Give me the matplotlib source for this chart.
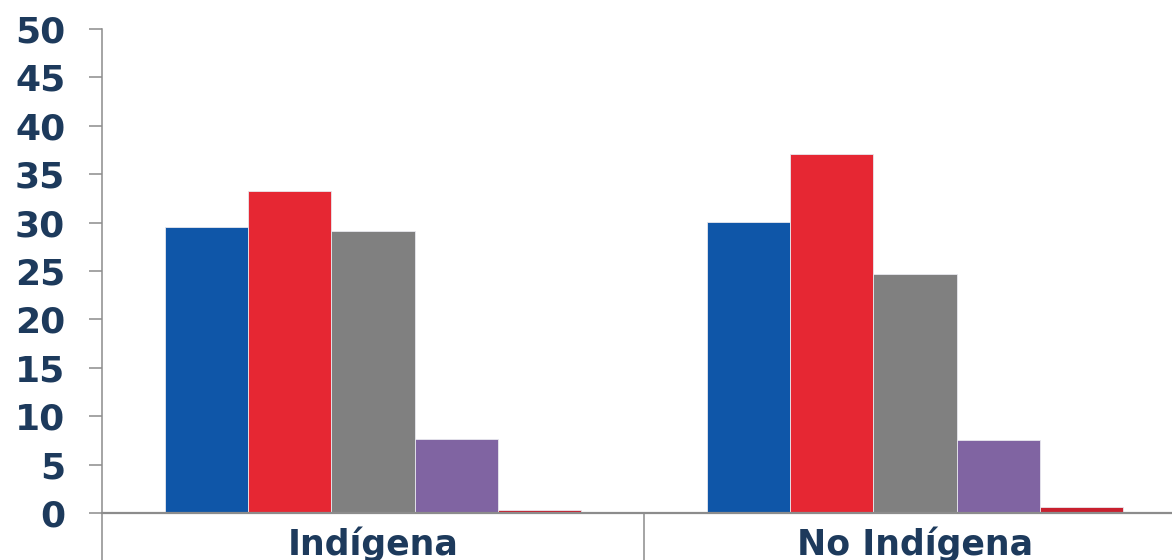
import numpy as np
import matplotlib.pyplot as plt

# datos
categorias = ["Indígena", "No Indígena"]
serie_1 = [29.5, 30.1]
serie_2 = [33.3, 37.1]
serie_3 = [29.1, 24.7]
serie_4 = [7.6, 7.5]
serie_5 = [0.35, 0.6]
yticks = [0, 5, 10, 15, 20, 25, 30, 35, 40, 45, 50]

series = [serie_1, serie_2, serie_3, serie_4, serie_5]
colores = ["#0F56A8", "#E62733", "#808080", "#8064A2", "#C8202E"]
texto = "#1D3A5C"
eje = "#8C8C8C"

fig = plt.figure(figsize=(11.72, 5.60), dpi=100)
# el eje se sale un poco por la derecha, como en la imagen original
ax = fig.add_axes([102 / 1172, 47 / 560, 1084 / 1172, 484 / 560])

x = np.arange(len(categorias))
ancho = 1 / 6.5
for i, (vals, col) in enumerate(zip(series, colores)):
    pos = x + (i - 2) * ancho
    ax.bar(pos, vals, width=ancho, color=col, edgecolor="#E8E8EE", linewidth=0.6, zorder=2)

ax.set_xlim(-0.5, 1.5)
ax.set_ylim(0, 50)
ax.set_yticks(yticks)
ax.set_yticklabels([str(t) for t in yticks])

ax.set_xticks(x)
ax.set_xticklabels(categorias)
ax.set_xticks([-0.5, 0.5, 1.5], minor=True)

ax.tick_params(axis="y", length=9.5, width=1.1, color=eje, pad=17,
               labelsize=26, labelcolor=texto)
ax.tick_params(axis="x", which="major", length=0, pad=9.5,
               labelsize=25, labelcolor=texto)
ax.tick_params(axis="x", which="minor", length=40, width=1.1, color=eje)

for lab in ax.get_yticklabels() + ax.get_xticklabels():
    lab.set_fontweight("bold")

for s in ["top", "right"]:
    ax.spines[s].set_visible(False)
ax.spines["left"].set_color(eje)
ax.spines["bottom"].set_color(eje)
ax.spines["left"].set_linewidth(1.1)
ax.spines["bottom"].set_linewidth(1.6)
ax.spines["bottom"].set_zorder(3)

fig.savefig("out.png", dpi=100)
